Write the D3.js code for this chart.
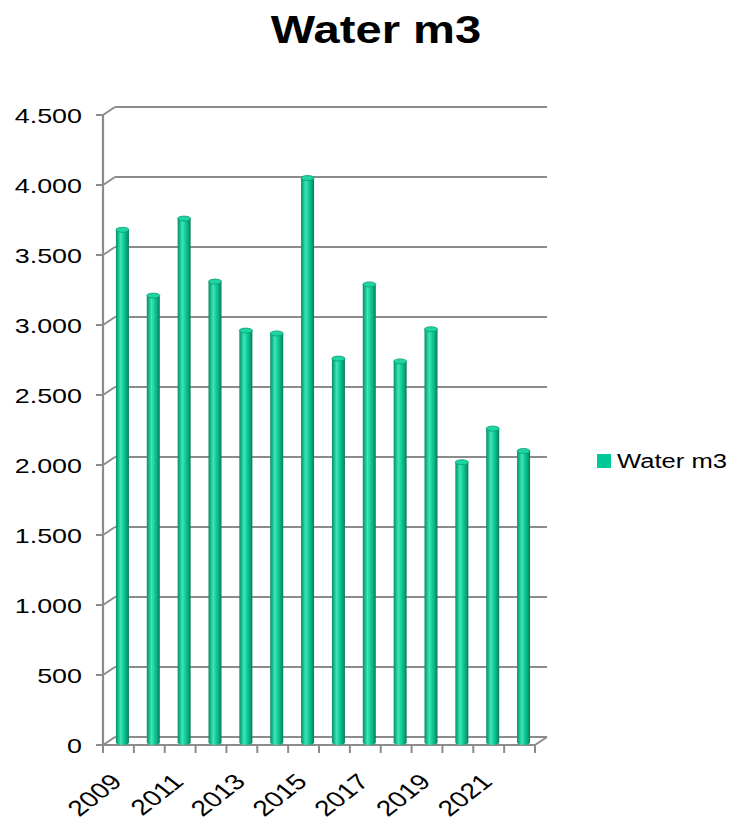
<!DOCTYPE html>
<meta charset="utf-8">
<style>

body {
  margin: 0;
  background: #fff;
}

svg {
  font-family: Arial, "Liberation Sans", Helvetica, sans-serif;
}

</style>
<svg width="734" height="821"></svg>
<script src="https://d3js.org/d3.v7.min.js"></script>
<script>
//chart data
var years = [2009, 2010, 2011, 2012, 2013, 2014, 2015, 2016, 2017, 2018, 2019, 2020, 2021, 2022];
var water = [3680, 3210, 3760, 3310, 2960, 2940, 4050, 2760, 3290, 2740, 2970, 2020, 2260, 2100];
var yTicks = [0, 500, 1000, 1500, 2000, 2500, 3000, 3500, 4000, 4500];
var xLabels = [2009, 2011, 2013, 2015, 2017, 2019, 2021];
var seriesName = "Water m3";

var svg = d3.select("svg");

//text looks a bit wide in the original, stretch it
var sx = 1.28;

//dutch style thousands
var nl = d3.formatLocale({decimal: ",", thousands: ".", grouping: [3], currency: ["", ""]}),
    fmt = nl.format(",d");

//front plane of the plot, back wall is shifted by depth
var x = d3.scaleBand().domain(years).range([103, 535]),
    y = d3.scaleLinear().domain([0, 4500]).range([745, 115]);
var depth = {dx: 12, dy: -8},
    barOff = {dx: 4, dy: -2.5};

var grid = "#8c8c8c";

//gradient for the cylinders
var defs = svg.append("defs");
var grad = defs.append("linearGradient")
    .attr("id", "cyl")
    .attr("x1", 0).attr("x2", 1).attr("y1", 0).attr("y2", 0);
[["0%", "#0a8a66"], ["14%", "#10b487"], ["36%", "#3fe6b7"], ["55%", "#14d39e"], ["82%", "#0aa67b"], ["100%", "#077a5a"]]
  .forEach(function(s) { grad.append("stop").attr("offset", s[0]).attr("stop-color", s[1]); });

//gridlines on the back wall
svg.append("g").selectAll("line")
    .data(yTicks)
  .enter().append("line")
    .attr("x1", x.range()[0] + depth.dx)
    .attr("x2", x.range()[1] + depth.dx)
    .attr("y1", function(d) { return y(d) + depth.dy; })
    .attr("y2", function(d) { return y(d) + depth.dy; })
    .attr("stroke", grid)
    .attr("stroke-width", 2.2);

//left wall diagonals
svg.append("g").selectAll("line")
    .data(yTicks)
  .enter().append("line")
    .attr("x1", x.range()[0])
    .attr("x2", x.range()[0] + depth.dx)
    .attr("y1", function(d) { return y(d); })
    .attr("y2", function(d) { return y(d) + depth.dy; })
    .attr("stroke", grid)
    .attr("stroke-width", 2);

//floor front edge and right side
svg.append("line")
    .attr("x1", x.range()[0]).attr("x2", x.range()[1])
    .attr("y1", y(0)).attr("y2", y(0))
    .attr("stroke", grid).attr("stroke-width", 2.2);
svg.append("line")
    .attr("x1", x.range()[1]).attr("x2", x.range()[1] + depth.dx)
    .attr("y1", y(0)).attr("y2", y(0) + depth.dy)
    .attr("stroke", grid).attr("stroke-width", 2);

//y axis line and ticks
svg.append("line")
    .attr("x1", x.range()[0]).attr("x2", x.range()[0])
    .attr("y1", y(4500)).attr("y2", y(0) + 1)
    .attr("stroke", grid).attr("stroke-width", 2.2);
svg.append("g").selectAll("line")
    .data(yTicks)
  .enter().append("line")
    .attr("x1", x.range()[0] - 7).attr("x2", x.range()[0])
    .attr("y1", function(d) { return y(d); })
    .attr("y2", function(d) { return y(d); })
    .attr("stroke", grid).attr("stroke-width", 2);

//y labels
svg.append("g").selectAll("text")
    .data(yTicks)
  .enter().append("text")
    .attr("transform", function(d) { return "translate(82," + y(d) + ") scale(" + sx + ",1)"; })
    .attr("dy", "0.36em")
    .attr("text-anchor", "end")
    .style("font-size", "21px")
    .attr("fill", "#000")
    .text(function(d) { return fmt(d); });

//x ticks at category borders
var borders = years.map(function(d) { return x(d); }).concat([x.range()[1]]);
svg.append("g").selectAll("line")
    .data(borders)
  .enter().append("line")
    .attr("x1", function(d) { return d; })
    .attr("x2", function(d) { return d; })
    .attr("y1", y(0))
    .attr("y2", y(0) + 8)
    .attr("stroke", grid).attr("stroke-width", 2);

//x labels, every second year
svg.append("g").selectAll("text")
    .data(xLabels)
  .enter().append("text")
    .attr("transform", function(d) {
      return "translate(" + (x(d) + x.bandwidth() / 2 + 5) + ",783) scale(" + sx + ",1) rotate(-45)";
    })
    .attr("text-anchor", "end")
    .style("font-size", "22px")
    .attr("fill", "#000")
    .text(function(d) { return d; });

//cylinders
var rx = 6.5, ry = 2.5;
var bars = svg.append("g").selectAll("g")
    .data(years.map(function(d, i) { return {year: d, value: water[i]}; }))
  .enter().append("g")
    .attr("transform", function(d) {
      return "translate(" + (x(d.year) + x.bandwidth() / 2 + barOff.dx) + "," + barOff.dy + ")";
    });

bars.append("path")
    .attr("d", function(d) {
      var t = y(d.value) + ry, b = y(0);
      return "M" + (-rx) + "," + t + "L" + (-rx) + "," + b +
        "A" + rx + "," + ry + " 0 0 0 " + rx + "," + b +
        "L" + rx + "," + t + "Z";
    })
    .attr("fill", "url(#cyl)");

bars.append("ellipse")
    .attr("cx", 0)
    .attr("cy", function(d) { return y(d.value) + ry; })
    .attr("rx", rx)
    .attr("ry", ry)
    .attr("fill", "#1fd6a3")
    .attr("stroke", "#0b9a72")
    .attr("stroke-width", 0.8);

//title
svg.append("text")
    .attr("transform", "translate(376,43) scale(1.24,1)")
    .attr("text-anchor", "middle")
    .style("font-size", "38px")
    .style("font-weight", "bold")
    .attr("fill", "#000")
    .text(seriesName);

//legend
svg.append("rect")
    .attr("x", 597).attr("y", 454)
    .attr("width", 14).attr("height", 14)
    .attr("fill", "#00c896");
svg.append("text")
    .attr("transform", "translate(617,468) scale(" + sx + ",1)")
    .style("font-size", "20px")
    .attr("fill", "#000")
    .text(seriesName);

</script>
